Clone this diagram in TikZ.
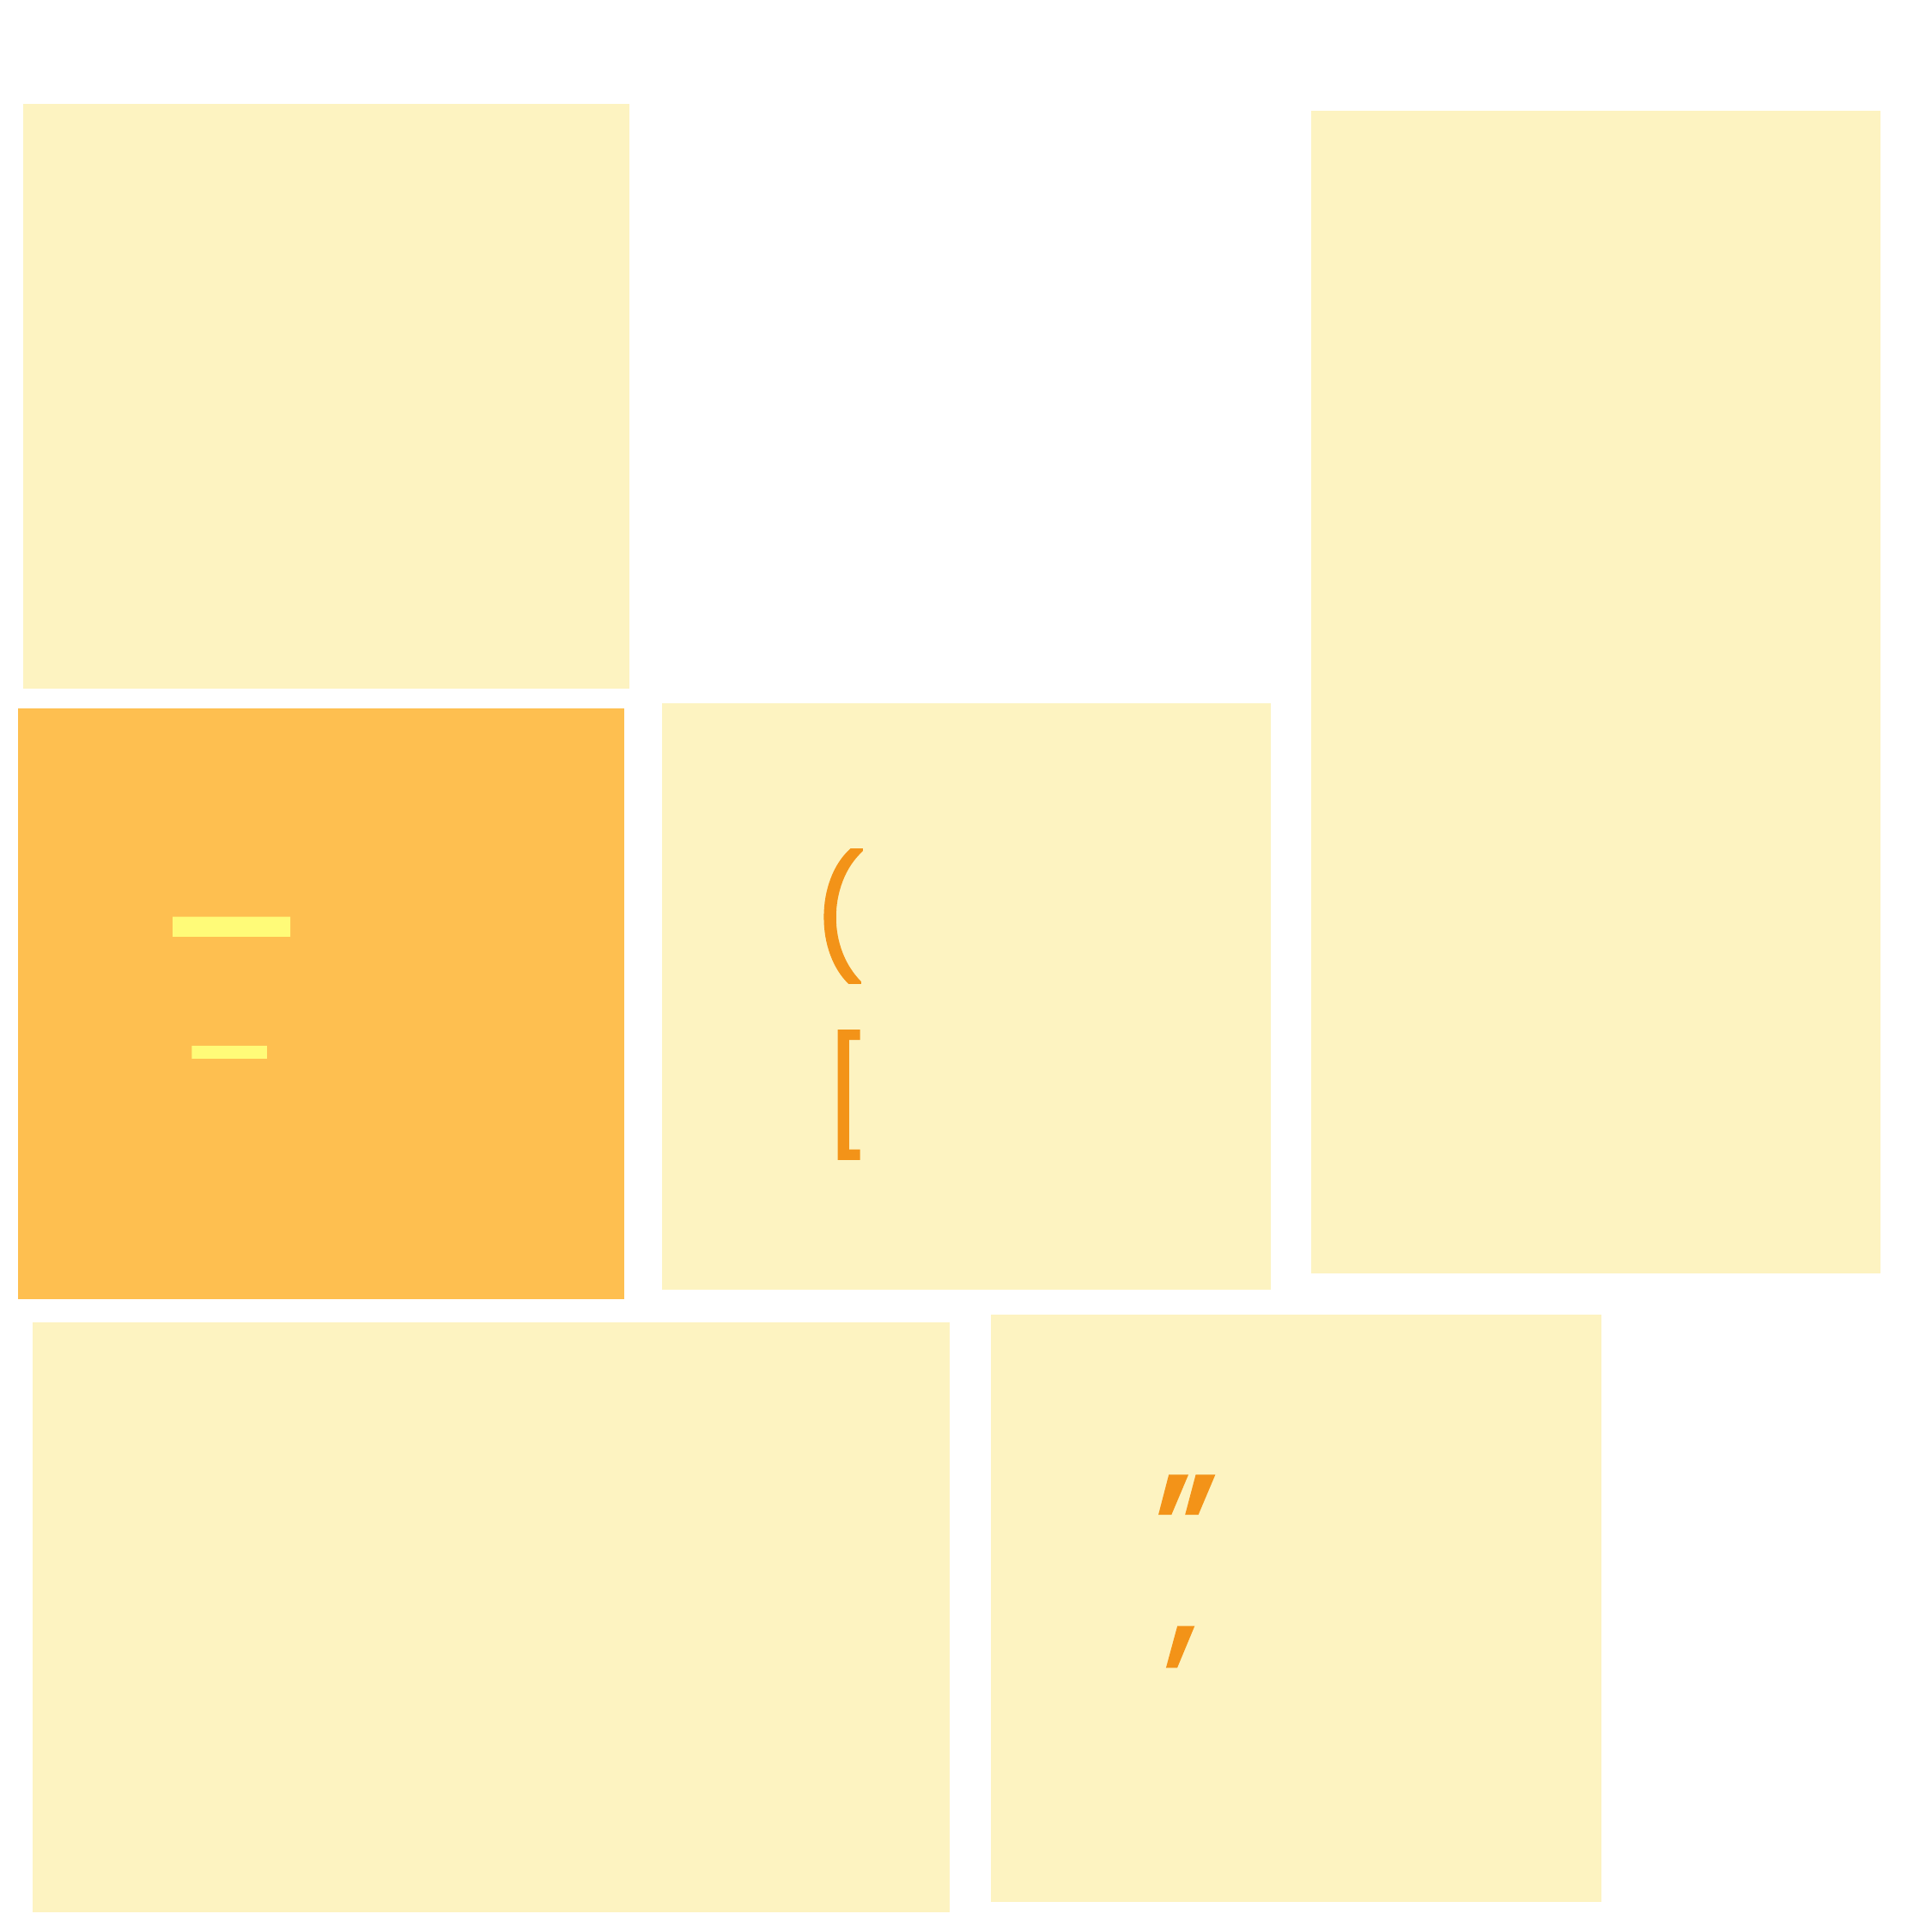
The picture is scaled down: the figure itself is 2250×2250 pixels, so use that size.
\documentclass[tikz,border=0pt]{standalone}
\usepackage{fontspec}
\setmainfont{Poppins}
\newfontfamily\markfont{Poppins}[FakeBold=1.5]
\definecolor{paleTile}{HTML}{FDF3C1}
\definecolor{hotTile}{HTML}{FEBF50}
\definecolor{dashInk}{HTML}{FFFB78}
\definecolor{markInk}{HTML}{F39318}
\tikzset{
  glyph/.style={inner sep=0pt, anchor=base, text=markInk},
  dashglyph/.style={inner sep=0pt, anchor=base, text=dashInk}
}
\newcommand{\pt}[1]{\markfont\fontsize{#1}{#1}\selectfont}
\begin{document}
\begin{tikzpicture}[x=0.01cm, y=-0.01cm]
  \useasboundingbox (0,0) rectangle (2250,2250);
  % tiles
  \fill[paleTile] (27,121) rectangle (733,802);
  \fill[paleTile] (1527,129) rectangle (2190,1483);
  \fill[hotTile] (21,825) rectangle (727,1513);
  \fill[paleTile] (771,819) rectangle (1480,1502);
  \fill[paleTile] (38,1540) rectangle (1106,2227);
  \fill[paleTile] (1154,1531) rectangle (1865,2215);
  % marks
  \draw
    (269.5,1172) node[dashglyph, font=\pt{72}] (bigdash){–}
    (267,1284.7) node[dashglyph, font=\pt{46}] (smalldash){–}
    (977,1119) node[glyph, font=\pt{39.5}] (paren){(}
    (987,1325) node[glyph, font=\pt{38}] (bracket){[}
    (1381.5,1853.5) node[glyph, font=\pt{55}] (quote){”}
    (1377,1916.5) node[glyph, font=\pt{49}] (comma){,};
\end{tikzpicture}
\end{document}
